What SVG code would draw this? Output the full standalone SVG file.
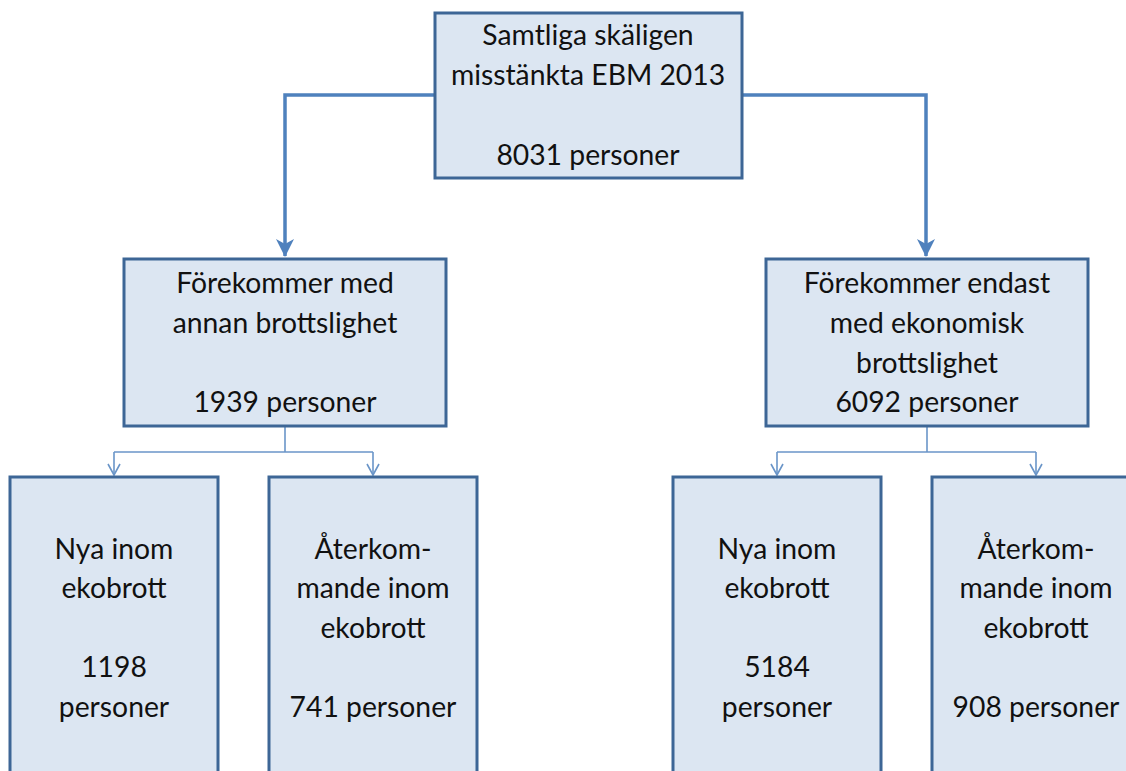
<svg xmlns="http://www.w3.org/2000/svg" width="1126" height="771" viewBox="0 0 1126 771">
<defs>
<style>
.box{fill:#DCE6F2;stroke:#3D6696;stroke-width:3}
.t{font-family:Lato,"Liberation Sans",Arial,sans-serif;font-size:28.3px;fill:#111;text-anchor:middle}
.thick{fill:none;stroke:#4F81BD;stroke-width:3.5}
.thin{fill:none;stroke:#6A95C8;stroke-width:1.6}
</style>
<marker id="big" markerWidth="20" markerHeight="20" refX="17" refY="9" orient="auto" markerUnits="userSpaceOnUse">
<path d="M0,0 L18,9 L0,18 L5,9 Z" fill="#4F81BD"/>
</marker>
<marker id="open" markerWidth="16" markerHeight="16" refX="12" refY="7" orient="auto" markerUnits="userSpaceOnUse">
<path d="M1,1 L12,7 L1,13" fill="none" stroke="#6A95C8" stroke-width="1.6"/>
</marker>
</defs>
<g id="connectors">
<path class="thick" d="M435,95 H285 V256" marker-end="url(#big)"/>
<path class="thick" d="M742,95 H926 V256" marker-end="url(#big)"/>
<path class="thin" d="M285,427 V452"/>
<path class="thin" d="M114,452 H373"/>
<path class="thin" d="M114,452 V475" marker-end="url(#open)"/>
<path class="thin" d="M373,452 V475" marker-end="url(#open)"/>
<path class="thin" d="M927,427 V452"/>
<path class="thin" d="M777,452 H1036"/>
<path class="thin" d="M777,452 V475" marker-end="url(#open)"/>
<path class="thin" d="M1036,452 V475" marker-end="url(#open)"/>
</g>
<g id="root">
<rect class="box" x="435" y="13" width="307" height="165"/>
<text class="t" x="588" y="45">Samtliga skäligen</text>
<text class="t" x="588" y="85">misstänkta EBM 2013</text>
<text class="t" x="588" y="165">8031 personer</text>
</g>
<g id="annan">
<rect class="box" x="124" y="259" width="322" height="167"/>
<text class="t" x="285" y="293">Förekommer med</text>
<text class="t" x="285" y="333">annan brottslighet</text>
<text class="t" x="285" y="412">1939 personer</text>
</g>
<g id="endast">
<rect class="box" x="766" y="259" width="322" height="167"/>
<text class="t" x="927" y="293">Förekommer endast</text>
<text class="t" x="927" y="333">med ekonomisk</text>
<text class="t" x="927" y="373">brottslighet</text>
<text class="t" x="927" y="412">6092 personer</text>
</g>
<g id="nya1">
<rect class="box" x="10" y="477" width="208" height="310"/>
<text class="t" x="114" y="559">Nya inom</text>
<text class="t" x="114" y="598">ekobrott</text>
<text class="t" x="114" y="677">1198</text>
<text class="t" x="114" y="717">personer</text>
</g>
<g id="ater1">
<rect class="box" x="269" y="477" width="208" height="310"/>
<text class="t" x="373" y="559">Återkom-</text>
<text class="t" x="373" y="598">mande inom</text>
<text class="t" x="373" y="638">ekobrott</text>
<text class="t" x="373" y="717">741 personer</text>
</g>
<g id="nya2">
<rect class="box" x="673" y="477" width="208" height="310"/>
<text class="t" x="777" y="559">Nya inom</text>
<text class="t" x="777" y="598">ekobrott</text>
<text class="t" x="777" y="677">5184</text>
<text class="t" x="777" y="717">personer</text>
</g>
<g id="ater2">
<rect class="box" x="932" y="477" width="208" height="310"/>
<text class="t" x="1036" y="559">Återkom-</text>
<text class="t" x="1036" y="598">mande inom</text>
<text class="t" x="1036" y="638">ekobrott</text>
<text class="t" x="1036" y="717">908 personer</text>
</g>
</svg>
